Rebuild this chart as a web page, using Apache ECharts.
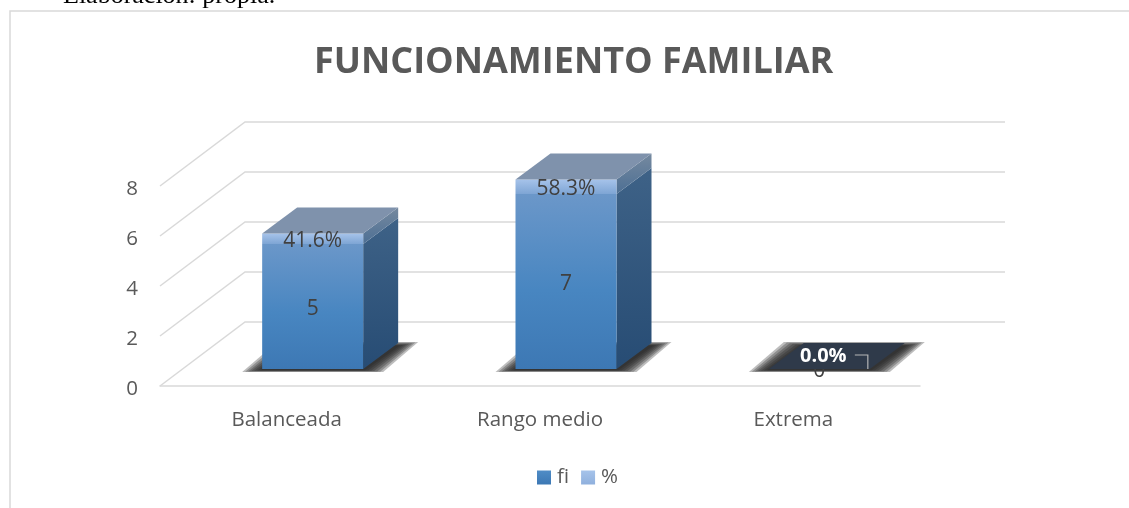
<!DOCTYPE html>
<html>
<head>
<meta charset="utf-8">
<title>Funcionamiento familiar</title>
<script src="https://cdn.jsdelivr.net/npm/echarts@6/dist/echarts.min.js"></script>
<style>
  html, body { margin: 0; padding: 0; background: #fff; }
  #chart { width: 1129px; height: 508px; }
</style>
</head>
<body>
<div id="chart"></div>
<script>
var categories = ["Balanceada", "Rango medio", "Extrema"];
var fiValues = [5, 7, 0];
var pctValues = [0.416, 0.583, 0];
var yTicks = [0, 2, 4, 6, 8];

var FONT = "'Open Sans', sans-serif";
var TEXT_COLOR = "#595959";
var LABEL_COLOR = "#404040";

// proyeccion del piso y de la pared de fondo
var WALL_DX = 85, WALL_DY = -64, WALL_RIGHT = 1005;
// la barra esta a media profundidad
var BAR_DX = 26, BAR_DY = -17, BAR_WIDTH = 101, BOX_DX = 35, BOX_DY = -26;

function grad(a, b, c) {
  var stops = [{ offset: 0, color: a }];
  if (c) stops.push({ offset: 0.55, color: b }, { offset: 1, color: c });
  else stops.push({ offset: 1, color: b });
  return new echarts.graphic.LinearGradient(0, 0, 0, 1, stops);
}

function poly(points, fill) {
  return { type: "polygon", shape: { points: points }, style: { fill: fill } };
}

function boxFaces(api, idx, low, high) {
  var p0 = api.coord([idx, low]);
  var p1 = api.coord([idx, high]);
  var x0 = p0[0] + BAR_DX - BAR_WIDTH / 2;
  return { x0: x0, x1: x0 + BAR_WIDTH, y0: p0[1] + BAR_DY, y1: p1[1] + BAR_DY };
}

function renderWall(params, api) {
  var v = api.value(0);
  var left = params.coordSys.x;
  var y = api.coord([0, v])[1];
  return {
    type: "polyline",
    shape: { points: [[left, y], [left + WALL_DX, y + WALL_DY], [WALL_RIGHT, y + WALL_DY]] },
    style: { fill: null, stroke: "#d9d9d9", lineWidth: 1.5 },
    silent: true
  };
}

function renderFi(params, api) {
  var idx = api.value(0), val = api.value(1);
  var b = boxFaces(api, idx, 0, val);
  var children = [];
  var base = b.y0;
  // sombra difusa: capas translucidas que se van cerrando hacia la barra
  for (var e = 20; e > 0; e -= 3) {
    var up = e * 0.2;
    children.push(poly([
      [b.x0 - e, base + 1 + up * 0.5], [b.x1 + e, base + 1 + up * 0.5],
      [b.x1 + BOX_DX + e, base + BOX_DY - up + 3], [b.x0 + BOX_DX - e, base + BOX_DY - up + 3]
    ], "rgba(35,35,35,0.3)"));
  }
  if (val > 0) {
    children.push(poly([
      [b.x1, b.y1], [b.x1 + BOX_DX, b.y1 + BOX_DY],
      [b.x1 + BOX_DX, b.y0 + BOX_DY], [b.x1, b.y0]
    ], grad("#3e6287", "#274c74")));
    children.push({
      type: "rect",
      shape: { x: b.x0, y: b.y1, width: BAR_WIDTH, height: b.y0 - b.y1 },
      style: { fill: grad("#6b97c9", "#4886c1", "#3d78b4") }
    });
  }
  children.push({
    type: "text",
    style: {
      text: String(val), x: (b.x0 + b.x1) / 2, y: (b.y0 + b.y1) / 2 + (val > 0 ? 3 : 2),
      align: "center", verticalAlign: "middle", fill: LABEL_COLOR, font: "21px " + FONT
    }
  });
  return { type: "group", children: children };
}

function renderPct(params, api) {
  var idx = api.value(0), val = api.value(1);
  var low = fiValues[idx];
  var b = boxFaces(api, idx, low, low + val);
  var children = [];
  var label = (val * 100).toFixed(1) + "%";
  if (val > 0) {
    children.push(poly([
      [b.x1, b.y1], [b.x1 + BOX_DX, b.y1 + BOX_DY],
      [b.x1 + BOX_DX, b.y0 + BOX_DY], [b.x1, b.y0]
    ], grad("#75899f", "#4d6f94")));
    children.push({
      type: "rect",
      shape: { x: b.x0, y: b.y1, width: BAR_WIDTH, height: b.y0 - b.y1 },
      style: { fill: grad("#a6c3ea", "#7ea5d4") }
    });
  }
  // cara superior: oscura cuando la barra no tiene altura
  children.push(poly([
    [b.x0, b.y1], [b.x1, b.y1],
    [b.x1 + BOX_DX, b.y1 + BOX_DY], [b.x0 + BOX_DX, b.y1 + BOX_DY]
  ], val > 0 ? "#7f92ac" : "#2f3a4a"));
  if (val > 0) {
    children.push({
      type: "text",
      style: {
        text: label, x: (b.x0 + b.x1) / 2, y: (b.y0 + b.y1) / 2 + 2,
        align: "center", verticalAlign: "middle", fill: LABEL_COLOR, font: "21px " + FONT
      }
    });
  } else {
    // etiqueta desplazada con linea guia
    children.push({
      type: "text",
      style: {
        text: label, x: (b.x0 + b.x1) / 2 + 4, y: b.y0 - 13,
        align: "center", verticalAlign: "middle", fill: "#fff", font: "bold 20px " + FONT
      }
    });
    children.push({
      type: "polyline",
      shape: { points: [[b.x1 - 15, b.y0 - 14], [b.x1 - 2, b.y0 - 14], [b.x1 - 2, b.y0]] },
      style: { fill: null, stroke: "#b5b5b5", lineWidth: 1.2 }
    });
  }
  return { type: "group", children: children };
}

var chart = echarts.init(document.getElementById("chart"));

chart.setOption({
  animation: false,
  backgroundColor: "#fff",
  title: {
    text: "FUNCIONAMIENTO FAMILIAR",
    left: 309,
    top: 40,
    textStyle: { fontFamily: FONT, fontSize: 36, fontWeight: 700, color: TEXT_COLOR }
  },
  legend: {
    left: 532,
    top: 462,
    itemWidth: 14,
    itemHeight: 14,
    itemGap: 12,
    icon: "rect",
    textStyle: { fontFamily: FONT, fontSize: 20.5, color: TEXT_COLOR, padding: [0, 0, 0, 1] },
    data: [
      { name: "fi", itemStyle: { color: grad("#4f8cc6", "#3c78b4") } },
      { name: "%", itemStyle: { color: grad("#a6c3ea", "#8fb0dd") } }
    ]
  },
  grid: { left: 160, top: 186, width: 760, height: 200 },
  xAxis: {
    type: "category",
    data: categories,
    axisLine: { lineStyle: { color: "#d9d9d9", width: 1.5 } },
    axisTick: { show: false },
    axisLabel: { color: TEXT_COLOR, fontFamily: FONT, fontSize: 20.5, margin: 24 }
  },
  yAxis: {
    type: "value",
    min: 0,
    max: 8,
    interval: 2,
    axisLine: { show: false },
    axisTick: { show: false },
    splitLine: { show: false },
    axisLabel: {
      color: TEXT_COLOR, fontFamily: FONT, fontSize: 20.5, margin: 22,
      formatter: "{n|{value}}",
      rich: { n: { color: TEXT_COLOR, fontFamily: FONT, fontSize: 20.5, padding: [6, 0, 0, 0] } }
    }
  },
  series: [
    {
      type: "custom",
      name: "pared",
      z: 1,
      silent: true,
      renderItem: renderWall,
      encode: { y: 0 },
      data: yTicks.map(function (v) { return [v]; })
    },
    {
      type: "custom",
      name: "fi",
      z: 2,
      renderItem: renderFi,
      encode: { x: 0, y: 1 },
      data: fiValues.map(function (v, i) { return [i, v]; })
    },
    {
      type: "custom",
      name: "%",
      z: 3,
      renderItem: renderPct,
      encode: { x: 0, y: 1 },
      data: pctValues.map(function (v, i) { return [i, v]; })
    }
  ],
  graphic: [
    {
      type: "text",
      left: 63,
      top: -17,
      style: { text: "Elaboración: propia.", fill: "#000", font: "26px 'Liberation Serif', serif" }
    },
    {
      type: "polyline",
      shape: { points: [[10, 508], [10, 11], [1129, 11]] },
      style: { fill: null, stroke: "#d9d9d9", lineWidth: 1.5 },
      z: 0
    }
  ]
});

window.addEventListener("resize", function () {
  chart.resize();
});
</script>
</body>
</html>
